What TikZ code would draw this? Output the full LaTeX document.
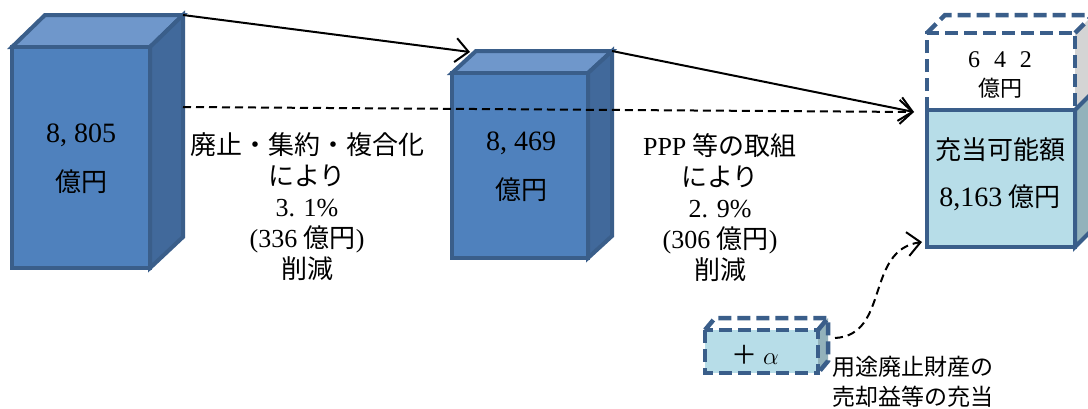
\documentclass[tikz,border=0pt]{standalone}
\usepackage{fontspec}
\setmainfont{Liberation Serif}
\newfontfamily\cjk{Noto Sans CJK JP}
\usetikzlibrary{arrows.meta}
\definecolor{bbord}{HTML}{3A5E8A}
\definecolor{bfront}{HTML}{4F81BD}
\definecolor{btop}{HTML}{6F97CB}
\definecolor{bside}{HTML}{41699B}
\definecolor{lfront}{HTML}{B7DDE8}
\definecolor{lside}{HTML}{93B2BB}
\definecolor{gside}{HTML}{D4D4D4}
\tikzset{
  boxline/.style={draw=bbord, line width=4pt, line join=miter},
  dashbox/.style={draw=bbord, line width=4.5pt, dash pattern=on 13pt off 6pt},
  txt/.style={inner sep=0pt, align=center, font=\fontsize{26}{31}\selectfont},
  arr/.style={line width=2pt, -{Straight Barb[length=13pt,width=24pt,line width=2pt]}},
  darr/.style={arr, dash pattern=on 8pt off 5pt},
}
\begin{document}
\begin{tikzpicture}[x=1pt,y=-1pt]
\clip (0,0) rectangle (1088,408);
\fill[white] (0,0) rectangle (1088,408);

% ---- box 1
\filldraw[boxline, fill=btop] (12,47) -- (45,15) -- (183,15) -- (150,47) -- cycle;
\filldraw[boxline, fill=bside] (150,47) -- (183,15) -- (183,237) -- (150,268) -- cycle;
\filldraw[boxline, fill=bfront] (12,47) rectangle (150,268);
\coordinate (b1tr) at (183,15);
\coordinate (b1mid) at (183,107);
\node[txt, font=\fontsize{28}{31}\selectfont] (v1) at (81,135) {8, 805};
\node[txt] (u1) at (81,182) {\cjk 億円};

% ---- box 2
\filldraw[boxline, fill=btop] (452,73) -- (476,51) -- (612,51) -- (588,73) -- cycle;
\filldraw[boxline, fill=bside] (588,73) -- (612,51) -- (612,236) -- (588,258) -- cycle;
\filldraw[boxline, fill=bfront] (452,73) rectangle (588,258);
\coordinate (b2tl) at (470,52);
\coordinate (b2tr) at (612,51);
\node[txt, font=\fontsize{28}{31}\selectfont] (v2) at (521,143) {8, 469};
\node[txt] (u2) at (521,190) {\cjk 億円};

% ---- box 3
\fill[white] (927,33) -- (945,15) -- (1093,15) -- (1075,33) -- cycle;
\fill[white] (927,33) rectangle (1075,110);
\fill[gside] (1075,33) -- (1093,15) -- (1093,92) -- (1075,110) -- cycle;
\filldraw[boxline, fill=lside] (1075,110) -- (1093,92) -- (1093,229) -- (1075,247) -- cycle;
\filldraw[boxline, fill=lfront] (927,110) rectangle (1075,247);
\draw[dashbox] (927,110) -- (927,33) -- (1075,33) -- (1075,110);
\draw[dashbox] (927,33) -- (945,15) -- (1093,15) -- (1093,92);
\draw[dashbox] (1075,33) -- (1093,15);
\draw[dashbox] (927,110) -- (1075,110);
\coordinate (b3in) at (914,112);
\coordinate (b3bl) at (922,242);
\node[inner sep=0pt, font=\fontsize{24}{26}\selectfont] (v3) at (1000,60) {6\hspace{14pt}4\hspace{14pt}2};
\node[inner sep=0pt, font=\fontsize{22}{26}\selectfont] (u3) at (1000,88) {\cjk 億円};
\node[txt] (t3) at (1000,150) {\cjk 充当可能額};
\node[txt] (v3b) at (1000,198) {{\fontsize{28}{31}\selectfont 8,163} {\cjk 億円}};

% ---- small box +alpha
\fill[lside] (818,330) -- (828,318) -- (828,361) -- (818,373) -- cycle;
\fill[lfront] (705,330) rectangle (818,373);
\draw[dashbox] (705,330) -- (715,318) -- (828,318) -- (828,361) -- (818,373);
\draw[dashbox] (818,330) -- (828,318);
\draw[dashbox] (705,330) rectangle (818,373);
\coordinate (sbr) at (835,338);
\node[txt] (alpha) at (755,355) {{\cjk ＋}\hspace{6pt}{\fontsize{30}{31}\selectfont$\alpha$}};

% ---- labels
\node[txt] (lab1) at (307,207) {{\cjk 廃止・集約・複合化}\\{\cjk により}\\3. 1\%\\(336 {\cjk 億円})\\{\cjk 削減}};
\node[txt] (lab2) at (720,208) {PPP {\cjk 等の取組}\\{\cjk により}\\2. 9\%\\(306 {\cjk 億円})\\{\cjk 削減}};
\node[inner sep=0pt, align=left, anchor=west, font=\fontsize{23}{30}\selectfont] (lab3) at (832,382) {{\cjk 用途廃止財産の}\\{\cjk 売却益等の充当}};

% ---- connectors
\draw[arr] (b1tr) -- (b2tl);
\draw[arr] (b2tr) -- (b3in);
\draw[darr] (b1mid) -- (b3in);
\draw[darr] (sbr) .. controls (890,335) and (865,250) .. (b3bl);
\end{tikzpicture}
\end{document}
